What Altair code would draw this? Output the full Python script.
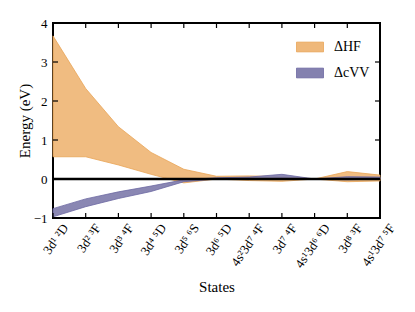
import altair as alt
import pandas as pd

states = ["3d¹ ²D", "3d² ³F", "3d³ ⁴F", "3d⁴ ⁵D", "3d⁵ ⁶S", "3d⁶ ⁵D",
          "4s²3d⁷ ⁴F", "3d⁷ ⁴F", "4s¹3d⁶ ⁶D", "3d⁸ ³F", "4s¹3d⁷ ⁵F"]
hf_low = [0.57, 0.57, 0.36, 0.12, -0.10, 0.00, -0.04, -0.06, 0.00, -0.07, -0.05]
hf_high = [3.67, 2.32, 1.34, 0.68, 0.25, 0.07, 0.08, 0.06, 0.00, 0.19, 0.10]
cvv_low = [-0.97, -0.71, -0.50, -0.32, -0.07, 0.00, 0.00, 0.02, 0.00, -0.02, 0.00]
cvv_high = [-0.76, -0.51, -0.33, -0.18, -0.02, 0.03, 0.05, 0.12, 0.00, 0.06, 0.05]
y_ticks = [-1, 0, 1, 2, 3, 4]
series_names = ["ΔHF", "ΔcVV"]
fill_colors = ["#EFB87A", "#8481AF"]
edge_colors = ["#E9A457", "#6C68A2"]

rows = []
for i, s in enumerate(states):
    rows.append({"state": s, "series": series_names[0], "low": hf_low[i], "high": hf_high[i]})
for i, s in enumerate(states):
    rows.append({"state": s, "series": series_names[1], "low": cvv_low[i], "high": cvv_high[i]})
df = pd.DataFrame(rows)
df_states = pd.DataFrame({"state": states})
df_yt = pd.DataFrame({"v": y_ticks})

FONT = "Liberation Serif"

xscale = alt.Scale(type="point", padding=0)
yscale = alt.Scale(domain=[-1, 4], nice=False, zero=False)

area = alt.Chart(df).mark_area(strokeWidth=0.8, fillOpacity=0.95).encode(
    x=alt.X("state:N", sort=states, scale=xscale,
            axis=alt.Axis(title="States", labelAngle=-55, labelAlign="right",
                          labelBaseline="middle", labelOffset=12, labelPadding=7,
                          ticks=False, domain=False, labelColor="black",
                          labelFont=FONT, labelFontSize=13, titleFont=FONT,
                          titleFontSize=15, titleFontWeight="normal",
                          titleColor="black", titlePadding=9, grid=False,
                          labelOverlap=False, labelFlush=False)),
    y=alt.Y("low:Q", scale=yscale, stack=None,
            axis=alt.Axis(title="Energy (eV)", values=y_ticks,
                          ticks=False, domain=False, labelColor="black",
                          labelFont=FONT, labelFontSize=13, labelPadding=6,
                          titleFont=FONT, titleFontSize=15,
                          titleFontWeight="normal", titleColor="black",
                          titlePadding=1, grid=False, labelFlush=False)),
    y2="high:Q",
    color=alt.Color("series:N", sort=series_names,
                    scale=alt.Scale(domain=series_names, range=fill_colors),
                    legend=alt.Legend(title=None, orient="top-right", offset=10,
                                      symbolType="M-1,-0.36H1V0.36H-1Z",
                                      symbolSize=729, symbolStrokeWidth=0.8,
                                      labelFont=FONT, labelFontSize=14,
                                      labelColor="black", labelOffset=10,
                                      rowPadding=5, padding=0)),
    stroke=alt.Stroke("series:N", sort=series_names,
                      scale=alt.Scale(domain=series_names, range=edge_colors),
                      legend=None),
)

zero = alt.Chart(pd.DataFrame({"y": [0]})).mark_rule(color="black", strokeWidth=2.5).encode(
    y=alt.Y("y:Q", scale=yscale, axis=None)
)

tick_style = dict(color="black", thickness=1.2, size=5, opacity=1)

bottom_ticks = alt.Chart(df_states).mark_tick(orient="vertical", yOffset=-2.5, **tick_style).encode(
    x=alt.X("state:N", sort=states, scale=xscale, axis=None),
    y=alt.datum(-1, scale=yscale, axis=None),
)
top_ticks = alt.Chart(df_states).mark_tick(orient="vertical", yOffset=2.5, **tick_style).encode(
    x=alt.X("state:N", sort=states, scale=xscale, axis=None),
    y=alt.datum(4, scale=yscale, axis=None),
)
left_ticks = alt.Chart(df_yt).mark_tick(orient="horizontal", xOffset=2.5, **tick_style).encode(
    y=alt.Y("v:Q", scale=yscale, axis=None),
    x=alt.datum(states[0], axis=None),
)
right_ticks = alt.Chart(df_yt).mark_tick(orient="horizontal", xOffset=-2.5, **tick_style).encode(
    y=alt.Y("v:Q", scale=yscale, axis=None),
    x=alt.datum(states[-1], axis=None),
)

chart = alt.layer(area, zero, bottom_ticks, top_ticks, left_ticks, right_ticks).resolve_axis(
    x="independent", y="independent"
).properties(
    width=327, height=195,
    padding={"left": 45, "top": 15, "right": 27, "bottom": 86},
    autosize="none",
).configure_view(stroke="black", strokeWidth=2)

chart.save("out.html", embed_options={"renderer": "svg", "actions": False})
